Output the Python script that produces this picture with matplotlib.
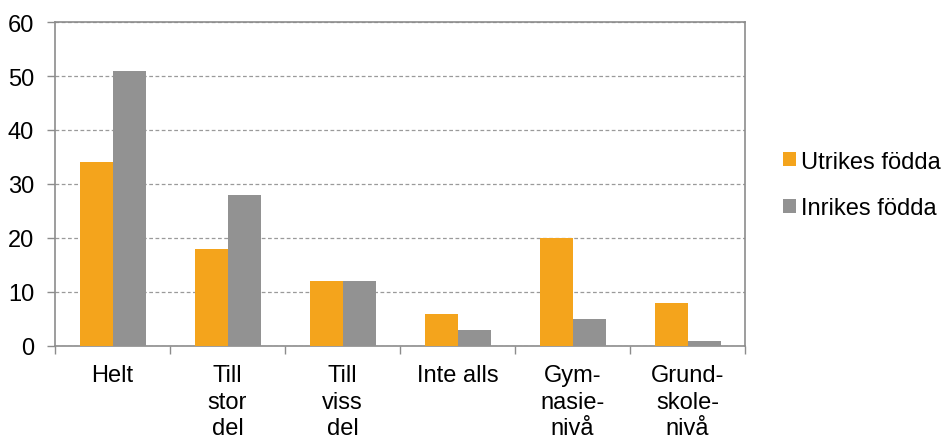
import numpy as np
import matplotlib
matplotlib.use("Agg")
import matplotlib.pyplot as plt

categories = ["Helt", "Till\nstor\ndel", "Till\nviss\ndel", "Inte alls", "Gym-\nnasie-\nnivå", "Grund-\nskole-\nnivå"]
utrikes = [34, 18, 12, 6, 20, 8]
inrikes = [51, 28, 12, 3, 5, 1]
series_labels = ["Utrikes födda", "Inrikes födda"]

plt.rcParams["font.family"] = ["Liberation Sans", "DejaVu Sans"]

fig = plt.figure(figsize=(9.44, 4.39), dpi=100)
ax = fig.add_axes([0.0583, 0.2096, 0.7309, 0.738])

x = np.arange(len(categories))
w = 0.287
ax.bar(x - w / 2, utrikes, w, color="#F4A41C", label=series_labels[0], zorder=3)
ax.bar(x + w / 2, inrikes, w, color="#929292", label=series_labels[1], zorder=3)

ax.set_xlim(-0.5, len(categories) - 0.5)
ax.set_ylim(0, 60)
ax.set_yticks(range(0, 61, 10))
ax.yaxis.grid(True, linestyle=(0, (3, 2)), color="#9a9a9a", linewidth=0.9, zorder=0)

ax.set_xticks(x)
ax.set_xticklabels(categories, fontsize=17, linespacing=1.27, va="top")
ax.tick_params(axis="x", length=0, pad=13)
ax.set_xticks(np.arange(-0.5, len(categories)), minor=True)
ax.tick_params(axis="x", which="minor", length=6, color="#8c8c8c", width=1)
ax.tick_params(axis="y", labelsize=17, length=6, color="#8c8c8c", width=1, pad=9)

for s in ax.spines.values():
    s.set_color("#8c8c8c")
    s.set_linewidth(1.2)

ax.legend(loc="center left", bbox_to_anchor=(1.042, 0.497), frameon=False, fontsize=17,
          handlelength=0.55, handleheight=0.55, handletextpad=0.2, labelspacing=1.05,
          borderaxespad=0)

fig.savefig("out.png", dpi=100)
